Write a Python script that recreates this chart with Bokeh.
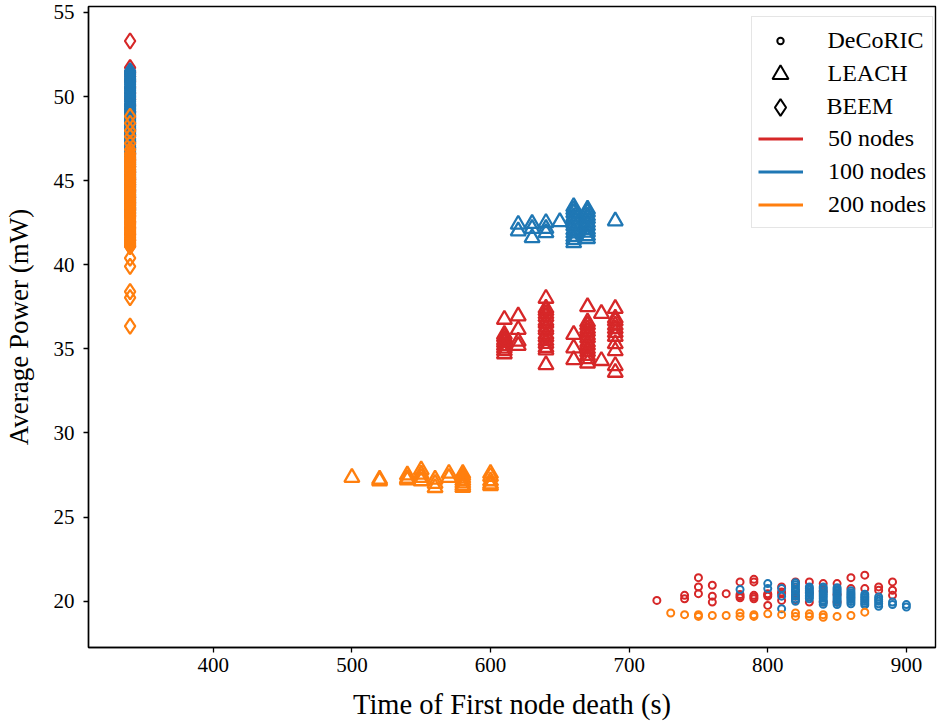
from bokeh.plotting import figure
from bokeh.models import Range1d, FixedTicker, Legend, LegendItem
from bokeh.embed import file_html
from bokeh.resources import INLINE

# ---------------- data ----------------
x_ticks = [400, 500, 600, 700, 800, 900]
y_ticks = [20, 25, 30, 35, 40, 45, 50, 55]

protocol_names = ["DeCoRIC", "LEACH", "BEEM"]
node_labels = ["50 nodes", "100 nodes", "200 nodes"]

# DeCoRIC: time of first node death (s) / average power (mW)
decoric_50_t = [720, 740, 740, 750, 750, 750, 760, 760, 760, 770, 780, 780, 780, 780,
                790, 790, 790, 790, 790, 800, 800, 800, 800, 810, 810, 810, 810,
                820, 820, 820, 820, 830, 830, 830, 840, 840, 840, 850, 850, 850,
                860, 860, 870, 870, 880, 880, 890, 890, 890]
decoric_50_p = [20.05, 20.35, 20.15, 21.4, 20.85, 20.45, 20.95, 20.3, 19.95, 20.45,
                21.15, 20.3, 20.2, 20.4, 21.3, 21.15, 20.35, 20.25, 20.15,
                20.45, 20.3, 20.38, 19.75, 20.85, 20.55, 20.45, 20.05,
                21.15, 20.6, 20.3, 20.1, 21.15, 20.5, 19.95,
                21.05, 20.6, 19.95, 21.05, 20.4, 19.95, 21.4, 20.75, 21.55, 20.75,
                20.85, 20.65, 21.15, 20.65, 20.35]

decoric_100_t = [780, 800, 800, 810, 810, 810,
                 820, 820, 820, 820, 820, 820, 820, 820, 820,
                 830, 830, 830, 830, 830, 830, 830, 830,
                 840, 840, 840, 840, 840, 840, 840, 840, 840, 840,
                 850, 850, 850, 850, 850, 850, 850, 850, 850, 850,
                 860, 860, 860, 860, 860, 860, 860, 860,
                 870, 870, 870, 870, 870, 870, 870,
                 880, 880, 880, 880, 880, 890, 890, 900, 900]
decoric_100_p = [20.7, 21.05, 20.75, 20.75, 20.3, 19.55,
                 21.1, 20.98, 20.85, 20.7, 20.55, 20.4, 20.3, 20.15, 20.0,
                 20.85, 20.75, 20.65, 20.55, 20.45, 20.35, 20.25, 20.15,
                 20.85, 20.75, 20.62, 20.5, 20.4, 20.3, 20.18, 20.05, 19.95, 19.82,
                 20.8, 20.7, 20.6, 20.5, 20.38, 20.27, 20.15, 20.05, 19.93, 19.8,
                 20.62, 20.5, 20.4, 20.3, 20.2, 20.1, 19.98, 19.85,
                 20.42, 20.3, 20.2, 20.1, 20.0, 19.88, 19.78,
                 20.25, 20.12, 20.0, 19.85, 19.7, 19.95, 19.8, 19.8, 19.65]

decoric_200_t = [730, 740, 750, 750, 760, 770, 780, 780, 790, 790, 800, 810,
                 820, 820, 830, 830, 840, 840, 850, 860, 870]
decoric_200_p = [19.3, 19.2, 19.2, 19.1, 19.15, 19.15, 19.3, 19.1, 19.2, 19.1, 19.25,
                 19.2, 19.3, 19.1, 19.25, 19.1, 19.2, 19.05, 19.1, 19.15, 19.35]

# LEACH
leach_50_t = [610] * 9 + [620] * 4 + [640] * 16 + [660] * 3 + [670] * 14 + [680] * 2 + [690] * 11
leach_50_p = [36.75, 35.86, 35.7, 35.52, 35.38, 35.2, 35.03, 34.88, 34.7,
              36.95, 36.15, 35.45, 35.2,
              38.0, 37.42, 37.27, 37.08, 36.91, 36.66, 36.52, 36.29, 36.13, 35.87,
              35.71, 35.49, 35.32, 35.08, 34.93, 34.05,
              35.85, 35.05, 34.35,
              37.5, 36.6, 36.42, 36.2, 36.03, 35.81, 35.64, 35.4, 35.22, 35.0,
              34.83, 34.6, 34.41, 34.15,
              37.1, 34.3,
              37.4, 36.82, 36.65, 36.41, 36.2, 35.97, 35.74, 35.3, 34.88, 34.0, 33.6]

leach_100_t = [620] * 2 + [630] * 3 + [640] * 3 + [650] + [660] * 12 + [670] * 10 + [690]
leach_100_p = [42.4, 42.0,
               42.45, 42.15, 41.6,
               42.5, 42.15, 41.9,
               42.55,
               43.45, 43.27, 43.08, 42.86, 42.7, 42.47, 42.3, 42.06, 41.88, 41.67, 41.48, 41.3,
               43.3, 43.12, 42.9, 42.73, 42.51, 42.32, 42.1, 41.93, 41.72, 41.55,
               42.6]

leach_200_t = [500] + [520] * 2 + [540] * 3 + [550] * 4 + [560] * 3 + [570] * 2 + [580] * 7 + [600] * 5
leach_200_p = [27.35,
               27.25, 27.15,
               27.5, 27.3, 27.2,
               27.8, 27.55, 27.35, 27.15,
               27.25, 27.0, 26.75,
               27.6, 27.35,
               27.6, 27.47, 27.31, 27.16, 27.02, 26.88, 26.76,
               27.6, 27.42, 27.15, 26.97, 26.86]

# BEEM: every run has its first node death at the same time
beem_time = 340
beem_50_p = [53.3, 51.72, 51.45, 51.2, 50.9, 50.55, 50.2, 49.85, 49.5, 49.1, 48.75,
             48.4, 48.05, 47.7, 47.3, 46.95, 46.6, 46.2, 45.85, 45.5, 45.1, 44.75,
             44.4, 44.0, 43.65, 43.3, 42.9, 42.55, 42.2, 41.8, 41.45, 41.1]
beem_100_p = [51.52, 51.4, 51.31, 51.18, 51.05, 50.97, 50.86, 50.74, 50.6, 50.49,
              50.38, 50.26, 50.15, 50.04, 49.96, 49.81, 49.7, 49.57, 49.46, 49.4,
              49.29, 49.22, 49.1, 49.03, 48.92, 48.85, 48.72, 48.61, 48.53, 48.44,
              48.33, 48.26, 48.14, 48.02, 47.93, 47.85, 47.74, 47.63, 47.5, 47.41,
              47.3, 47.18, 47.07, 46.95, 46.83, 46.7, 46.58, 46.42, 46.27, 46.1,
              45.97, 45.83, 45.66, 45.5, 45.36, 45.21, 45.05, 44.9, 44.77, 44.63,
              44.47, 44.3, 44.15, 44.02, 43.86, 43.71, 43.55, 43.4, 43.25, 43.08]
beem_200_p = [48.82, 48.41, 47.97, 47.62, 47.21, 46.84, 46.62, 46.5, 46.37, 46.28,
              46.18, 46.06, 45.96, 45.87, 45.79, 45.68, 45.6, 45.49, 45.41, 45.3,
              45.2, 45.11, 45.03, 44.93, 44.85, 44.74, 44.64, 44.55, 44.47, 44.36,
              44.26, 44.17, 44.08, 43.98, 43.9, 43.8, 43.71, 43.6, 43.5, 43.41,
              43.33, 43.22, 43.12, 43.04, 42.95, 42.86, 42.77, 42.66, 42.56, 42.48,
              42.4, 42.3, 42.19, 42.1, 42.01, 41.92, 41.83, 41.72, 41.62, 41.53,
              41.45, 41.35, 41.26, 41.16, 41.07, 40.4, 39.9, 38.4, 38.05, 36.35]

# ---------------- styling ----------------
RED, BLUE, ORANGE = "#d62728", "#1f77b4", "#ff7f0e"
colors = [RED, BLUE, ORANGE]
FONT = "Liberation Serif"
NAN = float("nan")

FRAME_L, FRAME_T, FRAME_B = 87, 6, 647
W, H = 937, 726

p = figure(width=W, height=H, x_range=Range1d(310, 921), y_range=Range1d(17.25, 55.35),
           output_backend="svg", toolbar_location=None,
           min_border_left=FRAME_L, min_border_right=2,
           min_border_top=FRAME_T, min_border_bottom=H - FRAME_B)
p.background_fill_color = "white"
p.border_fill_color = "white"
p.xgrid.visible = False
p.ygrid.visible = False
p.outline_line_color = "black"
p.outline_line_width = 1.4

for ax in (p.xaxis[0], p.yaxis[0]):
    ax.axis_line_color = "black"
    ax.axis_line_width = 1.4
    ax.major_tick_line_color = "black"
    ax.major_tick_line_width = 1.3
    ax.major_tick_in = 0
    ax.major_tick_out = 5
    ax.minor_tick_line_color = None
    ax.major_label_text_font = FONT
    ax.major_label_text_font_size = "21px"
    ax.major_label_text_color = "black"
    ax.axis_label_text_font = FONT
    ax.axis_label_text_font_style = "normal"
    ax.axis_label_text_color = "black"

p.xaxis.axis_label = "Time of First node death (s)"
p.yaxis.axis_label = "Average Power (mW)"
p.xaxis.axis_label_text_font_size = "28.5px"
p.yaxis.axis_label_text_font_size = "27px"
p.xaxis.ticker = FixedTicker(ticks=x_ticks)
p.yaxis.ticker = FixedTicker(ticks=y_ticks)
p.xaxis.major_label_standoff = 5
p.yaxis.major_label_standoff = 9
p.xaxis.axis_label_standoff = 14
p.yaxis.axis_label_standoff = 17

# ---------------- marks ----------------
groups = [
    (RED, decoric_50_t, decoric_50_p, leach_50_t, leach_50_p, beem_50_p),
    (BLUE, decoric_100_t, decoric_100_p, leach_100_t, leach_100_p, beem_100_p),
    (ORANGE, decoric_200_t, decoric_200_p, leach_200_t, leach_200_p, beem_200_p),
]
for color, dt, dp, lt, lp, bp in groups:
    p.scatter(dt, dp, marker="circle", size=7, line_color=color,
              fill_color=None, line_width=2)
    p.scatter(lt, lp, marker="triangle", size=15, line_color=color,
              fill_color=None, line_width=2.3)
    p.scatter([beem_time] * len(bp), bp, marker="diamond", size=15.5, line_color=color,
              fill_color=None, line_width=2.2)

# ---------------- legend ----------------
ROW, PAD, GW, STANDOFF = 33, 6, 45, 25
LEG_L, LEG_T = 750, 18
label_style = dict(label_text_font=FONT, label_text_font_size="24px",
                   label_text_color="black")

# legend-only renderers hold a single NaN point, so nothing shows in the plot area
blank = p.scatter([NAN], [NAN], marker="circle", size=1, line_alpha=0, fill_alpha=0)
items = [LegendItem(label=" ", renderers=[blank]) for _ in protocol_names]
for color, lab in zip(colors, node_labels):
    r = p.line([NAN, NAN], [NAN, NAN], line_color=color, line_width=3)
    items.append(LegendItem(label=lab, renderers=[r]))

main_h = len(items) * ROW + 2 * PAD
main_legend = Legend(items=items, glyph_width=GW, glyph_height=ROW, label_height=ROW,
                     label_standoff=STANDOFF, padding=PAD, spacing=0, margin=0,
                     border_line_color="#cccccc", border_line_width=1,
                     background_fill_color="white", background_fill_alpha=0.8,
                     location=(LEG_L - FRAME_L, FRAME_B - LEG_T - main_h), **label_style)
p.add_layout(main_legend, "center")

# marker keys: one borderless legend per protocol so each key gets its own marker size
marker_specs = [("circle", 6.5), ("triangle", 16), ("diamond", 17)]
for k, ((mk, sz), name) in enumerate(zip(marker_specs, protocol_names)):
    r = p.scatter([NAN], [NAN], marker=mk, size=sz, line_color="black",
                  fill_color=None, line_width=2)
    gw = int(round(sz / 0.4))
    gh = max(ROW, gw)
    top_k = LEG_T + ROW * k + ROW / 2 - gh / 2
    left_k = LEG_L + GW / 2 - gw / 2
    lg = Legend(items=[LegendItem(label=name, renderers=[r])],
                glyph_width=gw, glyph_height=gh, label_height=gh,
                label_standoff=int(round(GW / 2 + STANDOFF - gw / 2)),
                padding=PAD, spacing=0, margin=0,
                border_line_alpha=0, background_fill_alpha=0,
                location=(left_k - FRAME_L, FRAME_B - top_k - (gh + 2 * PAD)),
                **label_style)
    p.add_layout(lg, "center")

open("out.html", "w").write(file_html(p, INLINE))
